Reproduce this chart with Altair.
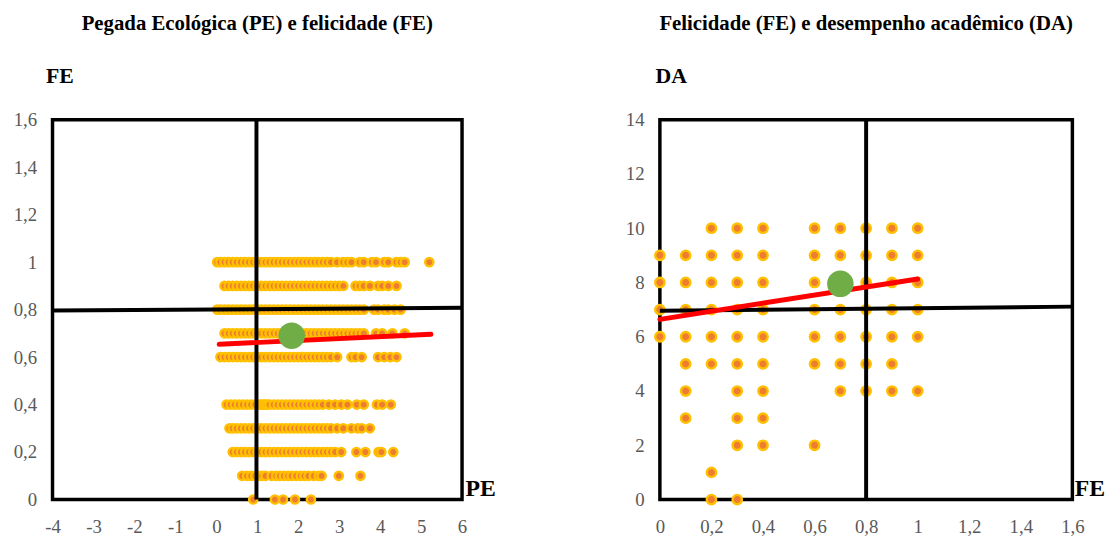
import altair as alt
import pandas as pd

FONT = "Liberation Serif, Times New Roman, serif"
GREY = "#595959"
ORANGE = "#ED7D31"
GOLD = "#FFC000"
GREEN = "#70AD47"
RED = "#FF0000"

# ---------------- Left panel: PE (x) vs FE (y) ----------------
left_title = "Pegada Ecológica (PE) e felicidade (FE)"
left_x_ticks = [-4, -3, -2, -1, 0, 1, 2, 3, 4, 5, 6]
left_y_ticks = [0, 0.2, 0.4, 0.6, 0.8, 1.0, 1.2, 1.4, 1.6]

fe_100_pe = [0.02, 0.1, 0.2, 0.3, 0.4, 0.5, 0.6, 0.7, 0.8, 0.9, 1.0, 1.1, 1.2, 1.3, 1.4, 1.5,
             1.6, 1.7, 1.8, 1.9, 2.0, 2.1, 2.2, 2.3, 2.4, 2.5, 2.6, 2.7, 2.8, 2.95, 3.1, 3.2,
             3.3, 3.5, 3.6, 3.8, 3.9, 4.1, 4.2, 4.4, 4.5, 4.6, 5.2]
fe_090_pe = [0.2, 0.3, 0.4, 0.5, 0.6, 0.7, 0.8, 0.9, 1.0, 1.1, 1.2, 1.3, 1.4, 1.5, 1.6, 1.7,
             1.8, 1.9, 2.0, 2.1, 2.2, 2.3, 2.4, 2.5, 2.6, 2.7, 2.8, 2.9, 3.0, 3.1, 3.4, 3.5,
             3.6, 3.75, 3.95, 4.05, 4.2, 4.4]
fe_080_pe = [0.02, 0.1, 0.2, 0.3, 0.4, 0.5, 0.6, 0.7, 0.8, 0.9, 1.0, 1.1, 1.2, 1.3, 1.4, 1.5,
             1.6, 1.7, 1.8, 1.9, 2.0, 2.1, 2.2, 2.3, 2.4, 2.5, 2.6, 2.7, 2.8, 2.9, 3.0, 3.1,
             3.2, 3.3, 3.4, 3.5, 3.6, 3.85, 3.95, 4.1, 4.2, 4.35, 4.5]
fe_070_pe = [0.2, 0.3, 0.4, 0.5, 0.6, 0.7, 0.8, 0.9, 1.0, 1.1, 1.2, 1.3, 1.4, 1.5, 1.6, 1.7,
             1.8, 1.9, 2.0, 2.1, 2.2, 2.3, 2.4, 2.5, 2.6, 2.7, 2.8, 2.9, 3.0, 3.1, 3.2, 3.3,
             3.4, 3.5, 3.6, 3.9, 4.05, 4.3, 4.6]
fe_060_pe = [0.1, 0.2, 0.3, 0.4, 0.5, 0.6, 0.7, 0.8, 0.9, 1.0, 1.1, 1.2, 1.3, 1.4, 1.5, 1.6,
             1.7, 1.8, 1.9, 2.0, 2.1, 2.2, 2.3, 2.4, 2.5, 2.6, 2.7, 2.8, 2.95, 3.3, 3.4, 3.55,
             3.95, 4.1, 4.25, 4.4]
fe_040_pe = [0.25, 0.35, 0.45, 0.55, 0.65, 0.75, 0.85, 0.95, 1.05, 1.1, 1.15, 1.2, 1.25, 1.3,
             1.4, 1.5, 1.6, 1.7, 1.8, 1.9, 2.0, 2.1, 2.2, 2.3, 2.4, 2.5, 2.6, 2.75, 2.9, 3.05,
             3.2, 3.43, 3.6, 3.92, 4.05, 4.26]
fe_030_pe = [0.32, 0.4, 0.5, 0.6, 0.7, 0.8, 0.9, 1.0, 1.1, 1.2, 1.3, 1.4, 1.5, 1.6, 1.7, 1.8,
             1.9, 2.0, 2.1, 2.2, 2.3, 2.4, 2.5, 2.6, 2.7, 2.8, 2.95, 3.1, 3.3, 3.45, 3.55, 3.75]
fe_020_pe = [0.4, 0.5, 0.6, 0.7, 0.8, 0.9, 1.0, 1.1, 1.2, 1.3, 1.4, 1.5, 1.6, 1.7, 1.8, 1.9,
             2.0, 2.1, 2.2, 2.3, 2.4, 2.5, 2.6, 2.7, 2.8, 2.9, 3.05, 3.42, 3.64, 3.96, 4.03, 4.32]
fe_010_pe = [0.63, 0.75, 0.85, 0.95, 1.05, 1.12, 1.2, 1.35, 1.46, 1.55, 1.65, 1.75, 1.84, 1.95,
             2.06, 2.15, 2.25, 2.38, 2.5, 2.57, 2.99, 3.52]
fe_000_pe = [0.9, 1.43, 1.63, 1.92, 2.31]

left_rows = [(1.0, fe_100_pe), (0.9, fe_090_pe), (0.8, fe_080_pe), (0.7, fe_070_pe),
             (0.6, fe_060_pe), (0.4, fe_040_pe), (0.3, fe_030_pe), (0.2, fe_020_pe),
             (0.1, fe_010_pe), (0.0, fe_000_pe)]

left_mean_x = [1.84]
left_mean_y = [0.69]
left_trend_x = [0.07, 5.24]
left_trend_y = [0.654, 0.696]
left_vline_x = [0.98]
left_hline_x = [-4, 6]
left_hline_y = [0.796, 0.808]

# ---------------- Right panel: FE (x) vs DA (y) ----------------
right_title = "Felicidade (FE) e desempenho acadêmico (DA)"
right_x_ticks = [0, 0.2, 0.4, 0.6, 0.8, 1.0, 1.2, 1.4, 1.6]
right_y_ticks = [0, 2, 4, 6, 8, 10, 12, 14]

da_10_fe = [0.2, 0.3, 0.4, 0.6, 0.7, 0.8, 0.9, 1.0]
da_9_fe = [0, 0.1, 0.2, 0.3, 0.4, 0.6, 0.7, 0.8, 0.9, 1.0]
da_8_fe = [0, 0.1, 0.2, 0.3, 0.4, 0.6, 0.7, 0.8, 0.9, 1.0]
da_7_fe = [0, 0.1, 0.2, 0.3, 0.4, 0.6, 0.7, 0.8, 0.9, 1.0]
da_6_fe = [0, 0.1, 0.2, 0.3, 0.4, 0.6, 0.7, 0.8, 0.9, 1.0]
da_5_fe = [0.1, 0.2, 0.3, 0.4, 0.6, 0.7, 0.8, 0.9]
da_4_fe = [0.1, 0.3, 0.4, 0.7, 0.8, 0.9, 1.0]
da_3_fe = [0.1, 0.3, 0.4]
da_2_fe = [0.3, 0.4, 0.6]
da_1_fe = [0.2]
da_0_fe = [0.2, 0.3]

right_rows = [(10, da_10_fe), (9, da_9_fe), (8, da_8_fe), (7, da_7_fe), (6, da_6_fe),
              (5, da_5_fe), (4, da_4_fe), (3, da_3_fe), (2, da_2_fe), (1, da_1_fe),
              (0, da_0_fe)]

right_mean_x = [0.7]
right_mean_y = [7.95]
right_trend_x = [0.0, 1.0]
right_trend_y = [6.64, 8.13]
right_vline_x = [0.8]
right_hline_x = [0, 1.6]
right_hline_y = [6.96, 7.11]

LABEL_EXPR = "replace('' + datum.value, '.', ',')"


def panel(rows, mean_x, mean_y, trend_x, trend_y, vline_x, hline_x, hline_y,
          x_dom, y_dom, x_ticks, y_ticks, x_title, y_title, title, width, height,
          x_title_x, y_title_x, pt_size):
    pts = pd.DataFrame([(x, y) for y, xs in rows for x in xs], columns=["x", "y"])
    xs = alt.Scale(domain=x_dom, nice=False, zero=False)
    ys = alt.Scale(domain=y_dom, nice=False, zero=False)
    xaxis = alt.Axis(values=x_ticks, labelExpr=LABEL_EXPR, grid=False, domain=False,
                     ticks=False, labelPadding=18, labelFlush=False, labelOverlap=False,
                     labelFont=FONT, labelFontSize=19,
                     labelColor=GREY, title=x_title, titleFont=FONT, titleFontSize=24,
                     titleFontWeight="bold", titleColor="black", titleAngle=0,
                     titleX=x_title_x, titleY=-4, titleAlign="left",
                     titleBaseline="alphabetic")
    yaxis = alt.Axis(values=y_ticks, labelExpr=LABEL_EXPR, grid=False, domain=False,
                     ticks=False, labelPadding=16, labelFlush=False, labelOverlap=False,
                     labelFont=FONT, labelFontSize=19,
                     labelColor=GREY, title=y_title, titleFont=FONT, titleFontSize=22,
                     titleFontWeight="bold", titleColor="black", titleAngle=0,
                     titleX=y_title_x, titleY=-38, titleAlign="left",
                     titleBaseline="alphabetic")
    X = alt.X("x:Q", scale=xs, axis=xaxis)
    Y = alt.Y("y:Q", scale=ys, axis=yaxis)

    points = alt.Chart(pts).mark_circle(
        size=pt_size, color=ORANGE, stroke=GOLD, strokeWidth=2.4, opacity=1
    ).encode(x=X, y=Y)

    vline = alt.Chart(pd.DataFrame({"x": vline_x})).mark_rule(
        color="black", strokeWidth=4
    ).encode(x=alt.X("x:Q"))

    hline = alt.Chart(pd.DataFrame({"x": hline_x, "y": hline_y})).mark_line(
        color="black", strokeWidth=4
    ).encode(x="x:Q", y="y:Q")

    trend = alt.Chart(pd.DataFrame({"x": trend_x, "y": trend_y})).mark_line(
        color=RED, strokeWidth=5, strokeCap="round"
    ).encode(x="x:Q", y="y:Q")

    mean = alt.Chart(pd.DataFrame({"x": mean_x, "y": mean_y})).mark_circle(
        size=720, color=GREEN, opacity=1
    ).encode(x="x:Q", y="y:Q")

    return alt.layer(points, vline, hline, trend, mean).properties(
        width=width, height=height,
        title=alt.TitleParams(title, font=FONT, fontSize=21, fontWeight="bold",
                              color="black", anchor="middle", frame="group", offset=31),
    )


left = panel(left_rows, left_mean_x, left_mean_y, left_trend_x, left_trend_y,
             left_vline_x, left_hline_x, left_hline_y, [-4, 6], [0, 1.6],
             left_x_ticks, left_y_ticks, "PE", "FE", left_title, 414, 384, 417, -7, 70)
right = panel(right_rows, right_mean_x, right_mean_y, right_trend_x, right_trend_y,
              right_vline_x, right_hline_x, right_hline_y, [0, 1.6], [0, 14],
              right_x_ticks, right_y_ticks, "FE", "DA", right_title, 417, 384, 419, -5, 90)

chart = alt.hconcat(left, right, spacing=127).properties(
    padding={"left": 3, "top": 0, "right": 0, "bottom": 0}
).configure(
    background="white",
    view=alt.ViewConfig(stroke="black", strokeWidth=3.5),
)

chart.save("out.html", embed_options={"renderer": "svg", "actions": False})
